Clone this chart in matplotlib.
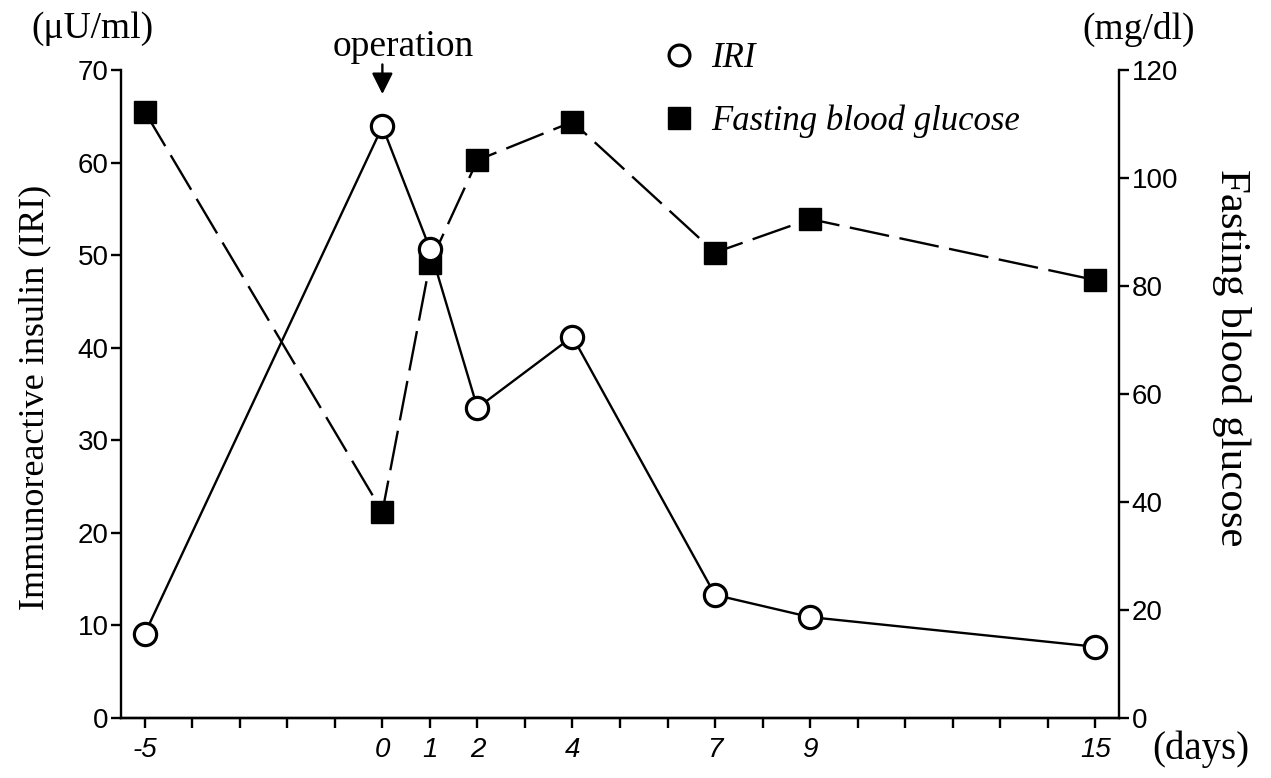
import matplotlib.pyplot as plt
from matplotlib.lines import Line2D

# days after operation
days = [-5, 0, 1, 2, 4, 7, 9, 15]
iri = [9.1, 63.9, 50.7, 33.5, 41.2, 13.3, 10.9, 7.7]          # uU/ml
glucose = [112.3, 38.2, 84.2, 103.3, 110.4, 86.2, 92.4, 81.1]  # mg/dl

labelled_days = [-5, 0, 1, 2, 4, 7, 9, 15]
left_ticks = [0, 10, 20, 30, 40, 50, 60, 70]
right_ticks = [0, 20, 40, 60, 80, 100, 120]

W, H = 1271, 778
serif = 'Liberation Serif'
sans = 'Liberation Sans'


def fx(px):
    return px / W


def fy(py):
    return 1 - py / H


fig = plt.figure(figsize=(W / 100, H / 100), dpi=100)
ax = fig.add_axes([fx(121), fy(718), fx(1119) - fx(121), fy(70) - fy(718)])
ax2 = ax.twinx()

ax.set_xlim(-5.5, 15.5)
ax.set_ylim(0, 70)
ax2.set_ylim(0, 120)

# glucose underneath, IRI on top
ax.set_zorder(2)
ax.patch.set_visible(False)

ax2.plot(days, glucose, color='black', lw=1.7, linestyle=(0, (17, 4.5)),
         marker='s', markersize=16, markerfacecolor='black', markeredgecolor='black')
ax.plot(days, iri, color='black', lw=1.7, marker='o', markersize=16,
        markerfacecolor='white', markeredgecolor='black', markeredgewidth=2.3)

# ticks
all_days = list(range(-5, 16))
ax.set_xticks(all_days)
ax.set_xticklabels([str(d) if d in labelled_days else '' for d in all_days],
                   fontfamily=sans, fontstyle='italic', fontsize=20)
ax.set_yticks(left_ticks)
ax.set_yticklabels([str(v) for v in left_ticks], fontfamily=sans, fontsize=20)
ax2.set_yticks(right_ticks)
ax2.set_yticklabels([str(v) for v in right_ticks], fontfamily=sans, fontsize=20)

for a in (ax, ax2):
    a.tick_params(width=1.7, length=7, pad=2, color='black')
    for s in a.spines.values():
        s.set_linewidth(1.7)
    a.spines['top'].set_visible(False)
ax.tick_params(axis='x', pad=7)
ax2.spines['left'].set_visible(False)
ax.spines['right'].set_visible(False)

# axis labels
fig.text(fx(35), fy(397), 'Immunoreactive insulin (IRI)', rotation=90,
         ha='center', va='center', fontfamily=serif, fontsize=26)
fig.text(fx(1232), fy(358), 'Fasting blood glucose', rotation=270,
         ha='center', va='center', fontfamily=serif, fontsize=31)
fig.text(fx(92), fy(29), '(μU/ml)', ha='center', va='center',
         fontfamily=serif, fontsize=27)
fig.text(fx(1139), fy(29), '(mg/dl)', ha='center', va='center',
         fontfamily=serif, fontsize=27)
fig.text(fx(1201), fy(749), '(days)', ha='center', va='center',
         fontfamily=serif, fontsize=28)

# operation marker
ax.annotate('', xy=(0, 67.4), xytext=(0, 70.6), annotation_clip=False,
            arrowprops=dict(arrowstyle='-|>', color='black', lw=1.7,
                            mutation_scale=32, shrinkA=0, shrinkB=0))
fig.text(fx(403), fy(47), 'operation', ha='center', va='center',
         fontfamily=serif, fontsize=27)

handles = [
    Line2D([], [], linestyle='none', marker='o', markersize=15,
           markerfacecolor='white', markeredgecolor='black', markeredgewidth=2.3),
    Line2D([], [], linestyle='none', marker='s', markersize=16,
           markerfacecolor='black', markeredgecolor='black'),
]
fig.legend(handles, ['IRI', 'Fasting blood glucose'], loc='upper left',
           bbox_to_anchor=(fx(630), fy(11)), frameon=False, handlelength=1.0,
           handletextpad=0.45, labelspacing=0.85,
           prop=dict(family=serif, style='italic', size=25))

fig.savefig('out.png', dpi=100)
